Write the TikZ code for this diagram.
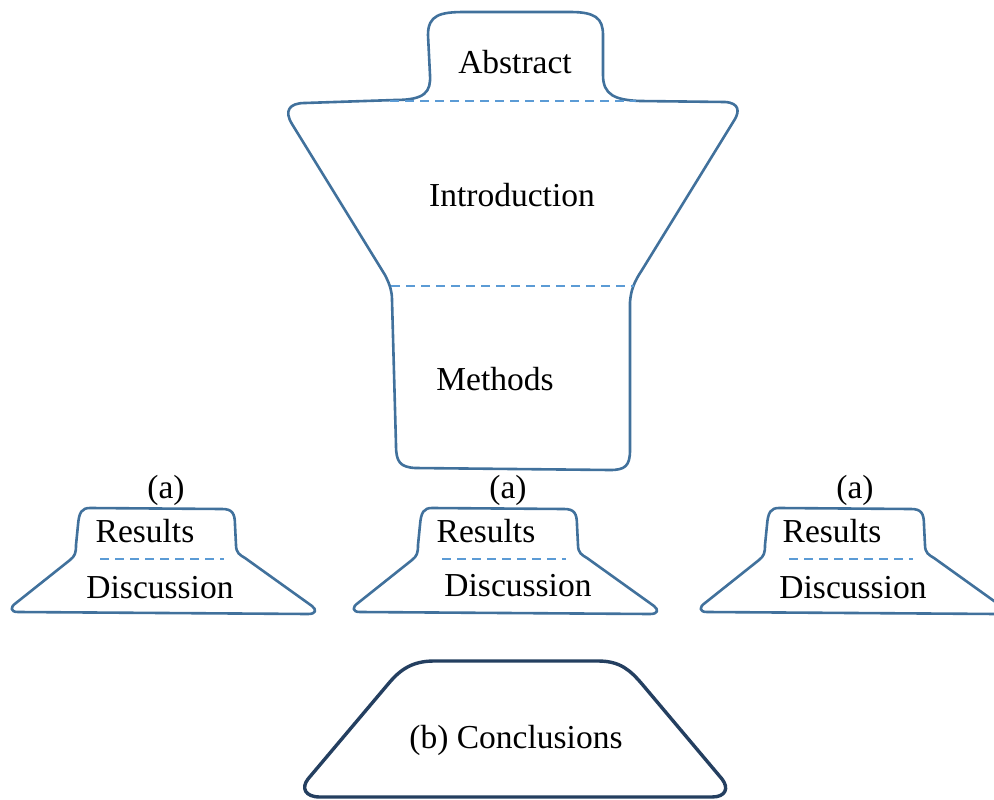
\documentclass[tikz,border=0pt]{standalone}
\usepackage{fontspec}
\setmainfont{Liberation Serif}
\definecolor{outl}{HTML}{41719C}
\definecolor{dash}{HTML}{5B9BD5}
\definecolor{navy}{HTML}{243F60}
\tikzset{
  shapeline/.style={draw=outl, line width=2.6pt, line join=round},
  divider/.style={draw=dash, line width=2.2pt, dash pattern=on 9pt off 6pt},
  concl/.style={draw=navy, line width=3.4pt, line join=round},
  lbl/.style={font=\fontsize{33.5}{40}\selectfont, inner sep=0pt, text=black}
}
\begin{document}
\begin{tikzpicture}[x=1pt,y=-1pt]
\useasboundingbox (0,0) rectangle (994,800);
% top shape
\draw[shapeline] (395,100) .. controls (425,100) and (431,92) .. (430,75)
  -- (428,35) .. controls (428,15) and (440,12) .. (465,12)
  -- (570,12) .. controls (595,12) and (603,18) .. (603,35)
  -- (603,75) .. controls (603,95) and (615,100) .. (640,101)
  -- (725,102) .. controls (740,103) and (739,112) .. (735,119)
  -- (642,270) .. controls (634,282) and (631,290) .. (630,302)
  -- (630,450) .. controls (630,466) and (625,470) .. (610,470)
  -- (415,468) .. controls (400,467) and (396,462) .. (396,445)
  -- (392,300) .. controls (392,291) and (390,285) .. (385,275)
  -- (292,124) .. controls (284,111) and (289,103) .. (305,103)
  -- cycle;
\draw[divider] (390,101) -- (636,101);
\draw[divider] (391,286) -- (634,286);
\node[lbl] (abs) at (515,62) {Abstract};
\node[lbl] (intro) at (512,195) {Introduction};
\node[lbl] (meth) at (495,379) {Methods};
% three results/discussion shapes
\foreach \dx/\nm/\rx/\dxx/\dy in {0/l/145/160/588,342/m/144/176/586,689/r/143/164/588}{
\begin{scope}[xshift=\dx pt]
\draw[shapeline] (90,508) -- (222,509) .. controls (232,509) and (235,513) .. (235,525)
  -- (236,545) .. controls (236,553) and (240,555) .. (245,558)
  -- (312,606) .. controls (317,610) and (316,614) .. (308,614)
  -- (18,612) .. controls (10,612) and (10,607) .. (16,603)
  -- (70,560) .. controls (75,556) and (76,553) .. (76,545)
  -- (78,525) .. controls (79,512) and (82,508) .. (90,508) -- cycle;
\draw[divider] (100,559) -- (224,559);
\node[lbl] (a\nm) at (166,490) {(a)};
\node[lbl] (res\nm) at (\rx,531) {Results};
\node[lbl] (dis\nm) at (\dxx,\dy) {Discussion};
\end{scope}}
% conclusions
\draw[concl] (320,797) -- (712,797) .. controls (726,797) and (729,788) .. (722,779)
  -- (642,684) .. controls (630,670) and (620,661) .. (598,661)
  -- (434,661) .. controls (412,661) and (400,670) .. (389,683)
  -- (308,779) .. controls (301,788) and (305,797) .. (320,797) -- cycle;
\node[lbl] (conc) at (516,740) {(b) Conclusions};
\end{tikzpicture}
\end{document}
